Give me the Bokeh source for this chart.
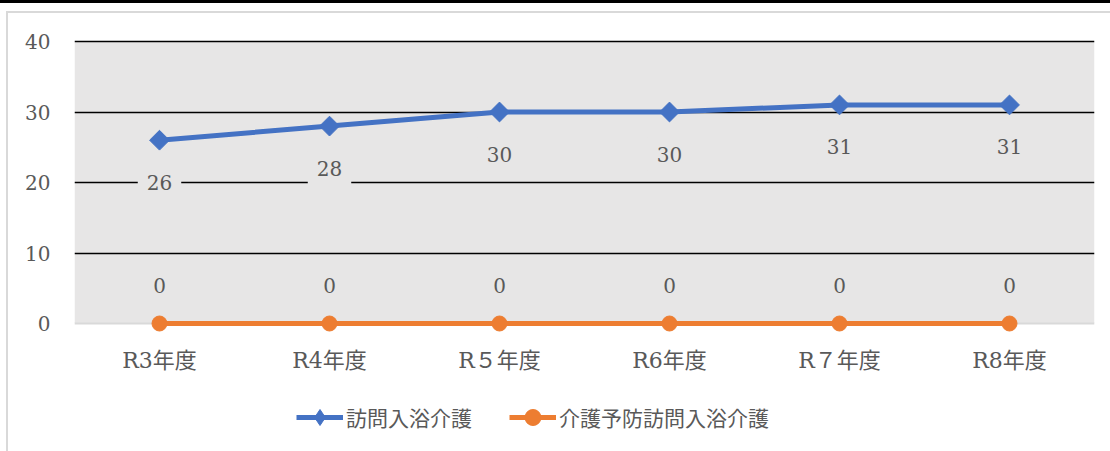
from bokeh.plotting import figure
from bokeh.layouts import column, row
from bokeh.models import (ColumnDataSource, FixedTicker, Legend, LegendItem,
                          BoxAnnotation, Span, FactorRange, Range1d, Div)
from bokeh.core.properties import value
from bokeh.embed import file_html
from bokeh.resources import INLINE

# ---- data ----
categories = ["R3年度", "R4年度", "R５年度", "R6年度", "R７年度", "R8年度"]
houmon_nyuyoku = [26, 28, 30, 30, 31, 31]          # 訪問入浴介護
yobou_houmon_nyuyoku = [0, 0, 0, 0, 0, 0]          # 介護予防訪問入浴介護
y_ticks = [0, 10, 20, 30, 40]
grid_ticks = [10, 20, 30, 40]
series_names = ["訪問入浴介護", "介護予防訪問入浴介護"]

# ---- styles ----
SERIF = "DejaVu Serif, Noto Sans CJK JP"
CJK = "Noto Sans CJK JP"
TEXT = "#595959"
BLUE = "#4472C4"
ORANGE = "#ED7D31"
PLOT_BG = "#E7E6E6"
BORDER = "#D9D9D9"

src = ColumnDataSource(dict(
    cat=categories,
    a=houmon_nyuyoku,
    b=yobou_houmon_nyuyoku,
    a_lbl=[str(v) for v in houmon_nyuyoku],
    b_lbl=[str(v) for v in yobou_houmon_nyuyoku],
))

# ================= main chart =================
p = figure(width=1102, height=372,
           x_range=FactorRange(*categories),
           y_range=Range1d(-1.702, 40.284),
           output_backend="svg", toolbar_location=None,
           min_border_left=66, min_border_right=16,
           min_border_top=26, min_border_bottom=50)
p.margin = 0
p.background_fill_color = "white"
p.border_fill_color = "white"
p.outline_line_color = None

# plot-area fill (0..40) and zero line
p.add_layout(BoxAnnotation(bottom=0, top=40, fill_color=PLOT_BG, fill_alpha=1,
                           line_color=None, level="image"))
p.add_layout(Span(location=0, dimension="width", line_color=BORDER,
                  line_width=2, level="underlay"))

# grid
p.xgrid.grid_line_color = None
p.ygrid.ticker = FixedTicker(ticks=grid_ticks)
p.ygrid.grid_line_color = "black"
p.ygrid.grid_line_width = 1.6

# axes
p.yaxis.ticker = FixedTicker(ticks=y_ticks)
for ax in (p.xaxis[0], p.yaxis[0]):
    ax.axis_line_color = None
    ax.major_tick_line_color = None
    ax.minor_tick_line_color = None
    ax.major_tick_out = 0
    ax.major_tick_in = 0
    ax.major_label_text_color = TEXT
    ax.major_label_text_font = SERIF
p.yaxis.major_label_text_font_size = "20px"
p.yaxis.major_label_standoff = 24
p.xaxis.major_label_text_font_size = "22px"
p.xaxis.major_label_standoff = 12

# series
p.line("cat", "a", source=src, line_color=BLUE, line_width=5)
p.scatter("cat", "a", source=src, marker="square", size=14, angle=0.7853981634,
          fill_color=BLUE, line_color=BLUE)
p.line("cat", "b", source=src, line_color=ORANGE, line_width=5)
p.scatter("cat", "b", source=src, marker="circle", size=15,
          fill_color=ORANGE, line_color=ORANGE)

# data labels (filled with the plot-area colour, so they mask gridlines)
p.text("cat", "a", text="a_lbl", source=src, y_offset=42, text_align="center",
       text_baseline="middle", text_font=value(SERIF), text_font_size="20px",
       text_color=TEXT, background_fill_color=PLOT_BG, background_fill_alpha=1,
       padding=9)
p.text("cat", "b", text="b_lbl", source=src, y_offset=-38, text_align="center",
       text_baseline="middle", text_font=value(SERIF), text_font_size="20px",
       text_color=TEXT)

# ================= legend strip =================
lf = figure(width=1102, height=66, x_range=FactorRange(*categories),
            y_range=Range1d(1000, 1001), output_backend="svg", toolbar_location=None,
            x_axis_location=None, y_axis_location=None,
            min_border_left=0, min_border_right=0, min_border_top=0, min_border_bottom=0)
lf.margin = 0
lf.grid.visible = False
lf.outline_line_color = None
lf.background_fill_color = "white"
lf.border_fill_color = "white"
lr1 = lf.line("cat", "a", source=src, line_color=BLUE, line_width=5)
lk1 = lf.scatter("cat", "a", source=src, marker="diamond", size=12,
                 fill_color=BLUE, line_color=BLUE)
lr2 = lf.line("cat", "b", source=src, line_color=ORANGE, line_width=5)
lk2 = lf.scatter("cat", "b", source=src, marker="circle", size=15,
                 fill_color=ORANGE, line_color=ORANGE)
leg = Legend(items=[LegendItem(label=series_names[0], renderers=[lr1, lk1]),
                    LegendItem(label=series_names[1], renderers=[lr2, lk2])],
             location=(222, 14), orientation="horizontal",
             glyph_width=47, glyph_height=40, label_standoff=3, spacing=37,
             padding=0, margin=0, border_line_color=None, background_fill_alpha=0,
             label_text_font=CJK, label_text_font_size="21px",
             label_text_color=TEXT)
lf.add_layout(leg)

# ================= page decorations =================
top_rule = Div(width=1110, height=3, margin=0, styles={"background-color": "black"})
gap = Div(width=1110, height=8, margin=0)
border_top = Div(width=1104, height=2, margin=(0, 0, 0, 6),
                 styles={"background-color": BORDER})
border_left = Div(width=2, height=438, margin=(0, 0, 0, 6),
                  styles={"background-color": BORDER})
layout = column(top_rule, gap, border_top,
                row(border_left, column(p, lf, spacing=0), spacing=0), spacing=0)

open("out.html", "w").write(file_html(layout, INLINE))
